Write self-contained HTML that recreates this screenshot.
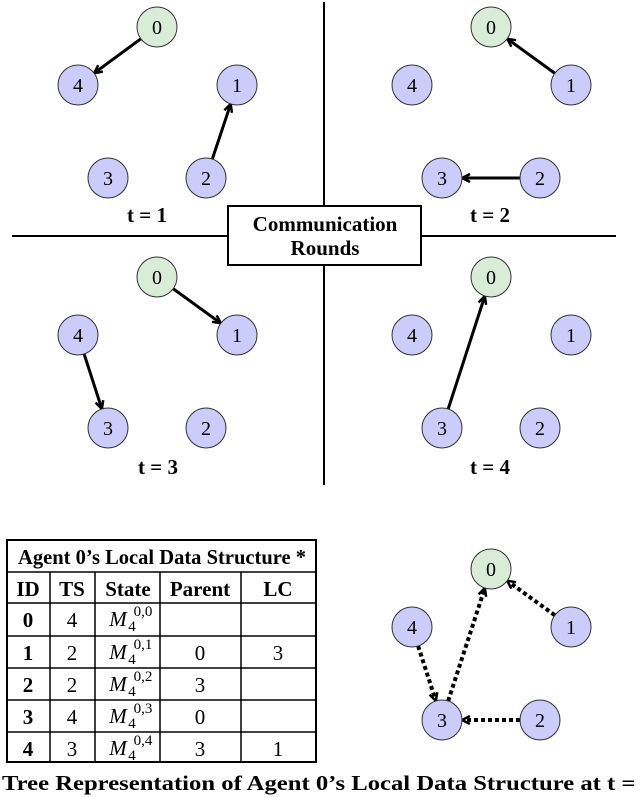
<!DOCTYPE html>
<html><head><meta charset="utf-8"><style>
body{margin:0;background:#fff}
svg{display:block}
text{font-family:"Liberation Serif",serif}
</style></head><body>
<svg id="s" width="640" height="797" viewBox="0 0 640 797" xmlns="http://www.w3.org/2000/svg">
<defs>
<marker id="a" markerWidth="10" markerHeight="10" refX="8" refY="5" orient="auto" markerUnits="userSpaceOnUse"><path d="M1,1 L9,5 L1,9" fill="none" stroke="#000" stroke-width="2.5"/></marker>
</defs>
<line x1="324" y1="2" x2="324" y2="485" stroke="#000" stroke-width="2"/>
<line x1="12" y1="236" x2="616" y2="236" stroke="#000" stroke-width="2"/>
<rect x="228" y="206" width="193" height="59" fill="#fff" stroke="#000" stroke-width="2"/>
<text x="325" y="231" font-size="21" font-weight="bold" text-anchor="middle">Communication</text>
<text x="325" y="255" font-size="21" font-weight="bold" text-anchor="middle">Rounds</text>
<text x="147" y="222" font-size="21" font-weight="bold" text-anchor="middle">t = 1</text>
<text x="490" y="222" font-size="21" font-weight="bold" text-anchor="middle">t = 2</text>
<text x="158" y="474" font-size="21" font-weight="bold" text-anchor="middle">t = 3</text>
<text x="490" y="474" font-size="21" font-weight="bold" text-anchor="middle">t = 4</text>
<g id="g"></g>
<g stroke="#000" stroke-width="1.5" fill="none">
<rect x="7" y="540" width="309" height="222" stroke-width="2"/>
<line x1="7" y1="572" x2="316" y2="572"/>
<line x1="7" y1="603" x2="316" y2="603"/>
<line x1="7" y1="636" x2="316" y2="636"/>
<line x1="7" y1="668" x2="316" y2="668"/>
<line x1="7" y1="700" x2="316" y2="700"/>
<line x1="7" y1="732" x2="316" y2="732"/>
<line x1="50" y1="572" x2="50" y2="762"/>
<line x1="95" y1="572" x2="95" y2="762"/>
<line x1="160" y1="572" x2="160" y2="762"/>
<line x1="241" y1="572" x2="241" y2="762"/>
</g>
<text x="18" y="564" font-size="21" font-weight="bold" textLength="288" lengthAdjust="spacingAndGlyphs">Agent 0’s Local Data Structure *</text>
<g font-size="21" font-weight="bold" text-anchor="middle">
<text x="28" y="596">ID</text><text x="72" y="596">TS</text><text x="128" y="596">State</text><text x="200" y="596">Parent</text><text x="278" y="596">LC</text>
</g>
<g id="rows" font-size="21" text-anchor="middle"></g>
<text x="2" y="790" font-size="21" font-weight="bold" textLength="652" lengthAdjust="spacingAndGlyphs">Tree Representation of Agent 0’s Local Data Structure at t = 4</text>
</svg>
<script>
var g=document.getElementById('g'),NS='http://www.w3.org/2000/svg';
function el(t,a,p){var e=document.createElementNS(NS,t);for(var k in a)e.setAttribute(k,a[k]);(p||g).appendChild(e);return e;}
var base={0:[157,27],4:[78,85],1:[237,85],3:[108,178],2:[206,178]};
var offs=[[0,0],[334,0],[0,250],[334,250],[334,542]];
var edges=[[[0,4],[2,1]],[[1,0],[2,3]],[[0,1],[4,3]],[[3,0]],[[1,0],[3,0],[4,3],[2,3]]];
var R=20;
offs.forEach(function(o,i){
 var P={};for(var k in base)P[k]=[base[k][0]+o[0],base[k][1]+o[1]];
 edges[i].forEach(function(e){
  var a=P[e[0]],b=P[e[1]],dx=b[0]-a[0],dy=b[1]-a[1],d=Math.hypot(dx,dy),ux=dx/d,uy=dy/d;
  var at={x1:a[0]+ux*R,y1:a[1]+uy*R,x2:b[0]-ux*(R+1),y2:b[1]-uy*(R+1),stroke:'#000','stroke-width':i==4?4:3,'marker-end':'url(#a)'};
  if(i==4)at['stroke-dasharray']='4 3';
  el('line',at);
 });
 for(var k in P){
  el('circle',{cx:P[k][0],cy:P[k][1],r:R,fill:k=='0'?'#d8ecd8':'#ccccfa',stroke:'#333','stroke-width':1});
  var t=el('text',{x:P[k][0],y:P[k][1]+7,'font-size':20,'text-anchor':'middle'});t.textContent=k;
 }
});
var rows=[['0','4','',''],['1','2','0','3'],['2','2','3',''],['3','4','0',''],['4','3','3','1']];
var rg=document.getElementById('rows');
rows.forEach(function(r,i){
 var y=[627,660,692,724,756][i];
 var t=el('text',{x:28,y:y,'font-weight':'bold'},rg);t.textContent=r[0];
 t=el('text',{x:72,y:y},rg);t.textContent=r[1];
 t=el('text',{x:118,y:y-1,'font-style':'italic'},rg);t.textContent='M';
 t=el('text',{x:132,y:y+4,'font-size':15},rg);t.textContent='4';
 t=el('text',{x:143,y:y-11,'font-size':15},rg);t.textContent='0,'+r[0];
 t=el('text',{x:200,y:y},rg);t.textContent=r[2];
 t=el('text',{x:278,y:y},rg);t.textContent=r[3];
});
</script>
</body></html>
